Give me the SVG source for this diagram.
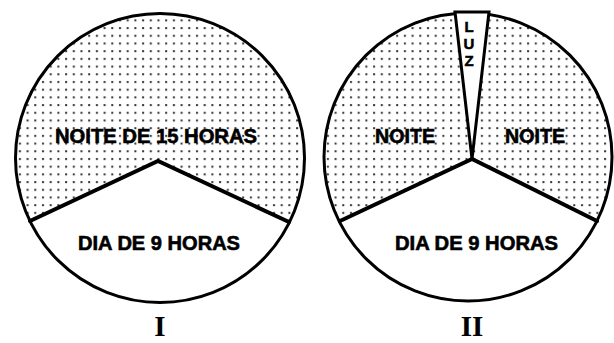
<svg xmlns="http://www.w3.org/2000/svg" width="614" height="343" viewBox="0 0 614 343">
  <defs>
    <pattern id="dots" x="1.5" y="2" width="7.7" height="7.7" patternUnits="userSpaceOnUse">
      <rect x="2" y="2" width="2" height="2" fill="#333"/>
    </pattern>
    <style>
      .night { fill: url(#dots); stroke: none; }
      .day { fill: #fff; stroke: none; }
      .rim { fill: none; stroke: #000; stroke-width: 3; }
      .div { fill: none; stroke: #000; stroke-width: 4; stroke-linejoin: miter; stroke-linecap: round; }
      .lbl { font-family: "Liberation Sans", Arial, sans-serif; font-weight: bold; font-size: 19.5px; fill: #000; stroke: #000; stroke-width: 0.6; text-anchor: middle; }
      .luz { font-family: "Liberation Sans", Arial, sans-serif; font-weight: bold; font-size: 15px; fill: #000; stroke: #000; stroke-width: 0.5; text-anchor: middle; }
      .num { font-family: "Liberation Serif", "Times New Roman", serif; font-weight: bold; font-size: 29px; fill: #000; text-anchor: middle; }
    </style>
  </defs>
  <rect width="614" height="343" fill="#fff"/>

  <g id="diagram-I">
    <circle class="night" cx="160" cy="158" r="144.5"/>
    <path class="day" d="M30 221 L158 161 L289 222 A144.5 144.5 0 0 1 30 221 Z"/>
    <circle class="rim" cx="160" cy="158" r="144.5"/>
    <polyline class="div" points="30,221 158,161 289,222"/>
    <text class="lbl" x="156" y="143" textLength="202" lengthAdjust="spacingAndGlyphs">NOITE DE 15 HORAS</text>
    <text class="lbl" x="159" y="250" textLength="162" lengthAdjust="spacingAndGlyphs">DIA DE 9 HORAS</text>
    <text class="num" x="160" y="336">I</text>
  </g>

  <g id="diagram-II">
    <circle class="night" cx="468" cy="157" r="144"/>
    <path class="day" d="M340 221 L472 159 L597 221 A144 144 0 0 1 340 221 Z"/>
    <circle class="rim" cx="468" cy="157" r="144"/>
    <polyline class="div" points="340,221 472,159 597,221"/>
    <g id="luz">
      <polygon points="455,12 489,12 472,159" fill="#fff" stroke="#000" stroke-width="3" stroke-linejoin="miter"/>
      <text class="luz" x="469" y="32">L</text>
      <text class="luz" x="469" y="49">U</text>
      <text class="luz" x="469" y="66">Z</text>
    </g>
    <text class="lbl" x="405" y="143" textLength="60" lengthAdjust="spacingAndGlyphs">NOITE</text>
    <text class="lbl" x="535" y="143" textLength="60" lengthAdjust="spacingAndGlyphs">NOITE</text>
    <text class="lbl" x="476.5" y="250" textLength="163" lengthAdjust="spacingAndGlyphs">DIA DE 9 HORAS</text>
    <text class="num" x="472" y="336">II</text>
  </g>
</svg>
